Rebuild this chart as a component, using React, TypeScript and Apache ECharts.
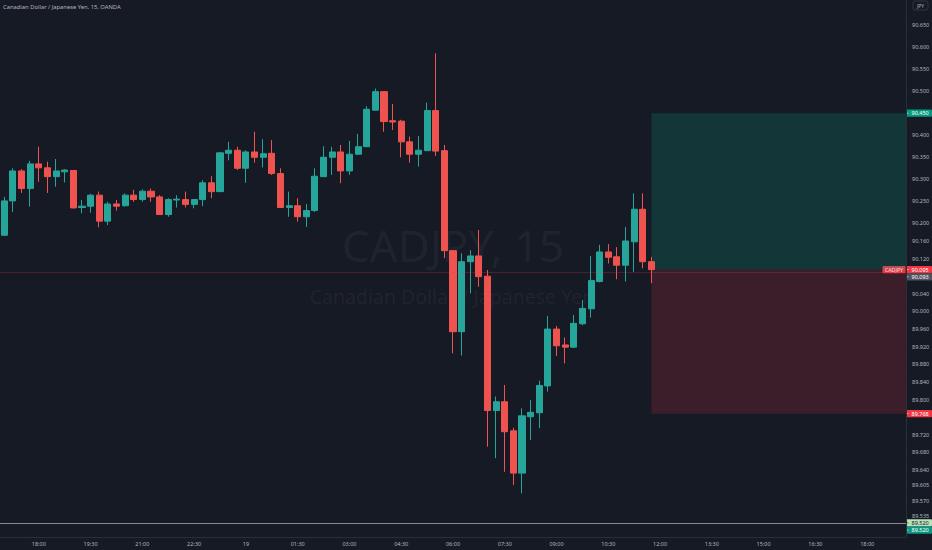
import React, { useEffect, useRef } from "react";
import * as echarts from "echarts";

const TITLE = "Canadian Dollar / Japanese Yen, 15, OANDA";
const WATERMARK_SYMBOL = "CADJPY, 15";
const WATERMARK_NAME = "Canadian Dollar / Japanese Yen";
const SYMBOL_TAG = "CADJPY";
const CURRENCY_TAG = "JPY";

// 15-minute slots starting 17:00 on the 18th
const SLOT_START_MINUTES = 17 * 60;
const SLOT_STEP_MINUTES = 15;
const SLOT_COUNT = 105;
const FIRST_LABEL_SLOT = 4;
const LABEL_EVERY = 6;
const timeTickLabels = [
  "18:00", "19:30", "21:00", "22:30", "19", "01:30", "03:00", "04:30", "06:00",
  "07:30", "09:00", "10:30", "12:00", "13:30", "15:00", "16:30", "18:00",
];

const opens = [
  90.173, 90.251, 90.319, 90.279, 90.335, 90.326, 90.306, 90.317, 90.320, 90.236,
  90.239, 90.264, 90.205, 90.244, 90.240, 90.264, 90.254, 90.273, 90.260, 90.220,
  90.253, 90.254, 90.243, 90.254, 90.292, 90.272, 90.359, 90.366, 90.325, 90.362,
  90.350, 90.359, 90.313, 90.236, 90.240, 90.215, 90.229, 90.306, 90.350, 90.362,
  90.319, 90.357, 90.374, 90.457, 90.499, 90.433, 90.432, 90.385, 90.357, 90.365,
  90.456, 90.365, 90.138, 89.954, 90.113, 90.126, 90.080, 89.775, 89.795, 89.729,
  89.633, 89.761, 89.770, 89.831, 89.960, 89.924, 89.919, 89.972, 90.006, 90.068,
  90.135, 90.124, 90.105, 90.158, 90.232, 90.113,
];
const closes = [
  90.251, 90.319, 90.279, 90.335, 90.326, 90.306, 90.319, 90.321, 90.235, 90.239,
  90.264, 90.205, 90.244, 90.239, 90.264, 90.254, 90.273, 90.260, 90.220, 90.254,
  90.255, 90.243, 90.254, 90.292, 90.272, 90.360, 90.366, 90.325, 90.362, 90.350,
  90.358, 90.313, 90.236, 90.240, 90.215, 90.229, 90.307, 90.350, 90.362, 90.319,
  90.357, 90.374, 90.459, 90.499, 90.431, 90.430, 90.385, 90.357, 90.366, 90.456,
  90.364, 90.138, 89.954, 90.113, 90.126, 90.079, 89.775, 89.795, 89.727, 89.633,
  89.763, 89.771, 89.832, 89.960, 89.922, 89.919, 89.973, 90.007, 90.070, 90.135,
  90.123, 90.105, 90.160, 90.232, 90.113, 90.095,
];
const lows = [
  90.171, 90.226, 90.269, 90.238, 90.294, 90.269, 90.283, 90.293, 90.234, 90.223,
  90.224, 90.191, 90.196, 90.229, 90.238, 90.249, 90.249, 90.249, 90.219, 90.215,
  90.236, 90.236, 90.234, 90.239, 90.257, 90.271, 90.343, 90.321, 90.292, 90.338,
  90.327, 90.310, 90.235, 90.215, 90.204, 90.192, 90.226, 90.305, 90.310, 90.291,
  90.310, 90.355, 90.373, 90.456, 90.408, 90.412, 90.350, 90.338, 90.329, 90.364,
  90.353, 90.121, 89.905, 89.900, 90.041, 90.056, 89.693, 89.667, 89.636, 89.606,
  89.587, 89.708, 89.735, 89.818, 89.899, 89.882, 89.917, 89.969, 89.986, 90.066,
  90.109, 90.073, 90.068, 90.090, 90.098, 90.064,
];
const highs = [
  90.260, 90.325, 90.323, 90.342, 90.374, 90.340, 90.346, 90.323, 90.321, 90.253,
  90.267, 90.272, 90.249, 90.253, 90.268, 90.276, 90.277, 90.279, 90.264, 90.257,
  90.264, 90.272, 90.255, 90.298, 90.307, 90.362, 90.385, 90.374, 90.366, 90.408,
  90.391, 90.389, 90.325, 90.272, 90.257, 90.244, 90.325, 90.375, 90.374, 90.378,
  90.387, 90.403, 90.466, 90.506, 90.500, 90.471, 90.435, 90.397, 90.398, 90.474,
  90.586, 90.378, 90.139, 90.132, 90.139, 90.185, 90.094, 89.807, 89.833, 89.736,
  89.780, 89.799, 89.843, 89.990, 89.967, 89.941, 89.992, 90.026, 90.126, 90.151,
  90.153, 90.146, 90.192, 90.268, 90.268, 90.124,
];

const priceTicks = [
  90.65, 90.6, 90.55, 90.5, 90.4, 90.35, 90.3, 90.25, 90.2, 90.16, 90.12,
  90.04, 90.0, 89.96, 89.92, 89.88, 89.84, 89.8, 89.72, 89.68, 89.64, 89.605,
  89.57, 89.535,
];
const Y_MIN = 89.488;
const Y_MAX = 90.707;

// long position tool
const positionStartSlot = 75;
const targetPrice = 90.45;
const entryPrice = 90.095;
const stopPrice = 89.768;

const lastPrice = 90.095;
const indicatorLinePrice = 89.52;

const priceTags = [
  { price: 90.45, text: "90.450", bg: "#089981", fg: "#ffffff" },
  { price: 90.095, text: "90.095", bg: "#f23645", fg: "#ffffff", symbol: true },
  { price: 90.093, text: "90.093", bg: "#50535e", fg: "#ffffff" },
  { price: 89.768, text: "89.768", bg: "#f23645", fg: "#ffffff" },
  { price: 89.52, text: "89.520", bg: "#b9e0b8", fg: "#131722" },
  { price: 89.52, text: "89.520", bg: "#089981", fg: "#ffffff" },
];

const BG = "#161a25";
const UP = "#26a69a";
const DOWN = "#ef5350";
const TEXT = "#b2b5be";
const FONT = "'Noto Sans', 'Open Sans', sans-serif";

function slotName(i: number) {
  const m = SLOT_START_MINUTES + i * SLOT_STEP_MINUTES;
  const d = Math.floor(m / 1440);
  const hh = Math.floor((m % 1440) / 60);
  const mm = m % 60;
  return `${d}-${String(hh).padStart(2, "0")}:${String(mm).padStart(2, "0")}`;
}

export default function App() {
  const ref = useRef<HTMLDivElement>(null);
  useEffect(() => {
    if (!ref.current) return;
    const chart = echarts.init(ref.current, undefined, { renderer: "svg" });
    const categories: string[] = [];
    for (let i = 0; i < SLOT_COUNT; i++) categories.push(slotName(i));
    const candles = opens.map((o, i) => [o, closes[i], lows[i], highs[i]]);
    const isLabelSlot = (i: number) =>
      i >= FIRST_LABEL_SLOT && (i - FIRST_LABEL_SLOT) % LABEL_EVERY === 0;

    const GRID_LEFT = 0;
    const GRID_WIDTH = 906;
    const GRID_TOP = 0;
    const GRID_HEIGHT = 537;

    chart.setOption({
      animation: false,
      backgroundColor: BG,
      textStyle: { fontFamily: FONT },
      grid: {
        left: GRID_LEFT,
        top: GRID_TOP,
        width: GRID_WIDTH,
        height: GRID_HEIGHT,
        containLabel: false,
        outerBoundsMode: "none",
      },
      xAxis: {
        type: "category",
        data: categories,
        boundaryGap: true,
        axisLine: { show: true, lineStyle: { color: "#2a2e39", width: 1 } },
        axisTick: { show: false },
        splitLine: { show: false },
        axisLabel: {
          interval: (i: number) => isLabelSlot(i),
          formatter: (_v: string, i: number) =>
            isLabelSlot(i) ? timeTickLabels[(i - FIRST_LABEL_SLOT) / LABEL_EVERY] ?? "" : "",
          color: TEXT,
          fontSize: 5.5,
          margin: 4,
          fontFamily: FONT,
        },
      },
      yAxis: {
        type: "value",
        position: "right",
        min: Y_MIN,
        max: Y_MAX,
        scale: true,
        axisLine: { show: true, lineStyle: { color: "#2a2e39", width: 1 } },
        axisTick: { show: false },
        splitLine: { show: false },
        axisLabel: {
          customValues: priceTicks,
          formatter: (v: number) => v.toFixed(3),
          color: TEXT,
          fontSize: 5.5,
          margin: 6,
          fontFamily: FONT,
        },
      },
      series: [
        {
          type: "custom",
          silent: true,
          z: 1,
          encode: { x: 0, y: [1, 2, 3] },
          data: [[positionStartSlot, targetPrice, entryPrice, stopPrice]],
          renderItem: (params: any, api: any) => {
            const top = api.coord([api.value(0), api.value(1)]);
            const mid = api.coord([api.value(0), api.value(2)]);
            const bot = api.coord([api.value(0), api.value(3)]);
            const cs = params.coordSys;
            const right = cs.x + cs.width;
            return {
              type: "group",
              children: [
                {
                  type: "rect",
                  shape: { x: top[0], y: top[1], width: right - top[0], height: mid[1] - top[1] },
                  style: { fill: "rgba(8,153,129,0.22)" },
                },
                {
                  type: "rect",
                  shape: { x: top[0], y: mid[1], width: right - top[0], height: bot[1] - mid[1] },
                  style: { fill: "rgba(242,54,69,0.17)" },
                },
              ],
            };
          },
        },
        {
          type: "candlestick",
          data: candles,
          barWidth: 6.6,
          silent: true,
          z: 3,
          itemStyle: {
            color: UP,
            color0: DOWN,
            borderColor: UP,
            borderColor0: DOWN,
            borderWidth: 1,
          },
          markLine: {
            silent: true,
            symbol: "none",
            label: { show: false },
            data: [
              { yAxis: lastPrice, lineStyle: { color: "rgba(242,54,69,0.3)", width: 0.8, type: "solid" } },
              { yAxis: indicatorLinePrice, lineStyle: { color: "#a3a6af", width: 0.8, type: "solid" } },
            ],
          },
        },
      ],
    });

    const yPix = (p: number) => chart.convertToPixel({ yAxisIndex: 0 }, p) as number;
    const axisX = GRID_LEFT + GRID_WIDTH;
    const tagH = 7.2;
    const tagW = 932 - axisX;
    const graphics: any[] = [
      {
        type: "text",
        left: 3,
        top: 4,
        z: 50,
        style: { text: TITLE, fill: TEXT, fontSize: 5.8, fontFamily: FONT },
      },
      {
        type: "text",
        x: 453,
        y: 245,
        z: 0,
        silent: true,
        style: {
          text: WATERMARK_SYMBOL,
          fill: "rgba(178,181,190,0.08)",
          fontSize: 44,
          fontFamily: FONT,
          align: "center",
          verticalAlign: "middle",
        },
      },
      {
        type: "text",
        x: 452,
        y: 296,
        z: 0,
        silent: true,
        style: {
          text: WATERMARK_NAME,
          fill: "rgba(178,181,190,0.08)",
          fontSize: 19.5,
          fontFamily: FONT,
          align: "center",
          verticalAlign: "middle",
        },
      },
      {
        type: "group",
        x: 913,
        y: 1,
        z: 50,
        children: [
          { type: "rect", shape: { x: 0, y: 0, width: 15, height: 9, r: 2 }, style: { fill: "none", stroke: "#434651", lineWidth: 0.6 } },
          {
            type: "text",
            x: 7.5,
            y: 4.5,
            style: { text: CURRENCY_TAG, fill: TEXT, fontSize: 5, fontFamily: FONT, align: "center", verticalAlign: "middle" },
          },
        ],
      },
    ];

    let prevY = -100;
    priceTags.forEach((t) => {
      let y = yPix(t.price);
      if (y < prevY + tagH) y = prevY + tagH;
      prevY = y;
      graphics.push({
        type: "group",
        x: axisX,
        y: y - tagH / 2,
        z: 60,
        children: [
          { type: "rect", shape: { x: 0, y: 0, width: tagW, height: tagH, r: 1 }, style: { fill: t.bg } },
          { type: "line", shape: { x1: 0, y1: tagH / 2, x2: 2.5, y2: tagH / 2 }, style: { stroke: t.fg, lineWidth: 0.6 } },
          {
            type: "text",
            x: 5.5,
            y: tagH / 2,
            style: { text: t.text, fill: t.fg, fontSize: 5.5, fontFamily: FONT, verticalAlign: "middle" },
          },
        ],
      });
      if ((t as any).symbol) {
        graphics.push({
          type: "group",
          x: axisX - 23.5,
          y: y - tagH / 2,
          z: 60,
          children: [
            { type: "rect", shape: { x: 0, y: 0, width: 23, height: tagH, r: 1 }, style: { fill: t.bg } },
            {
              type: "text",
              x: 11.5,
              y: tagH / 2,
              style: { text: SYMBOL_TAG, fill: t.fg, fontSize: 5.3, fontFamily: FONT, align: "center", verticalAlign: "middle" },
            },
          ],
        });
      }
    });

    chart.setOption({ graphic: graphics });

    return () => chart.dispose();
  }, []);

  return (
    <div
      ref={ref}
      style={{ position: "fixed", left: 0, top: 0, width: 932, height: 550, background: BG }}
    />
  );
}
